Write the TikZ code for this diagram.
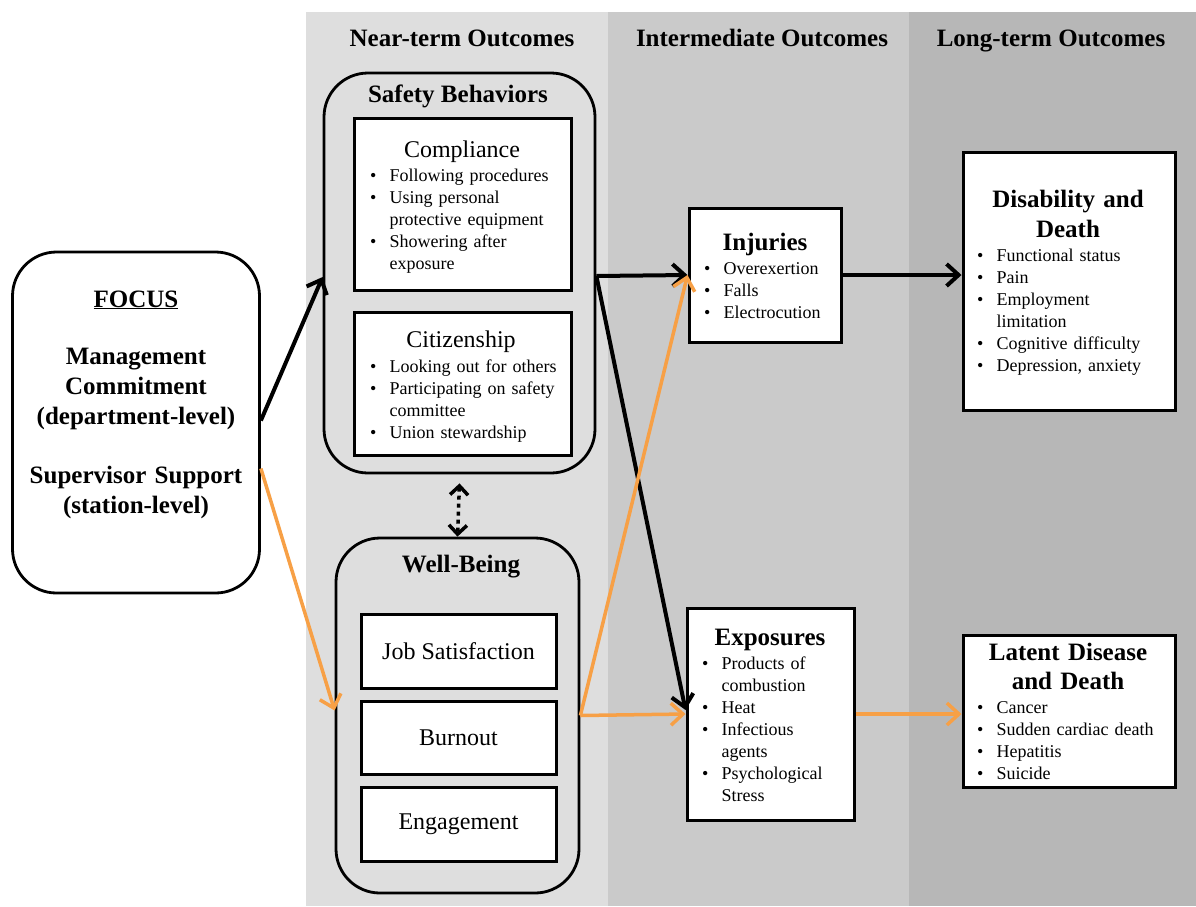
\documentclass[tikz,border=0pt]{standalone}
\usepackage{fontspec}
\setmainfont{Liberation Serif}
\usetikzlibrary{arrows.meta,calc}
\definecolor{nearc}{RGB}{222,222,222}
\definecolor{midc}{RGB}{202,202,202}
\definecolor{longc}{RGB}{183,183,183}
\definecolor{orng}{RGB}{247,160,70}
\newcommand{\bi}{\makebox[19.5pt][l]{\textbullet}}
\newcommand{\bc}{\hspace*{19.5pt}}
\begin{document}
\begin{tikzpicture}[x=1pt,y=-1pt,
  rbox/.style={draw, line width=2.8pt, rounded corners=44pt, inner sep=0pt},
  sbox/.style={draw, line width=3pt, fill=white, inner sep=0pt},
  head/.style={font=\fontsize{25}{30}\selectfont\bfseries, inner sep=0pt},
  sub/.style={font=\fontsize{24}{30}\selectfont, inner sep=0pt},
  lst/.style={font=\fontsize{18}{22}\selectfont, inner sep=0pt, anchor=base west, align=left, text width=200pt},
  tip/.style={-{Straight Barb[length=12pt,width=22pt]}},
  blk/.style={line width=4pt, tip},
  org/.style={line width=3.5pt, draw=orng, tip},
]
\useasboundingbox (0,0) rectangle (1196,906);
\fill[white] (0,0) rectangle (1196,906);
% panels
\fill[nearc] (306,12) rectangle (608,906);
\fill[midc] (608,12) rectangle (909,906);
\fill[longc] (909,12) rectangle (1196,906);
\node[head, anchor=base] (hnear) at (462,46) {Near-term Outcomes};
\node[head, anchor=base] (hmid) at (762,46) {Intermediate Outcomes};
\node[head, anchor=base] (hlong) at (1051,46) {Long-term Outcomes};

% FOCUS
\node[rbox, fill=white, minimum width=247pt, minimum height=341pt] (focus) at (136,422.5) {};
\node[head, anchor=base, align=center, text width=240pt] (focustxt) at (136,307)
  {\underline{FOCUS}\\[27pt]Management\\Commitment\\(department-level)\\[29pt]Supervisor Support\\(station-level)};

% Safety behaviors
\node[rbox, fill=nearc, minimum width=271pt, minimum height=400pt] (safety) at (459.5,273) {};
\node[head, anchor=base] (safetyt) at (458,102) {Safety Behaviors};
\node[sbox, minimum width=217pt, minimum height=172pt] (compl) at (462.5,204) {};
\node[sub, anchor=base] (complt) at (462,157) {Compliance};
\node[lst] (compll) at (370,181) {\bi Following procedures\\\bi Using personal\\\bc protective equipment\\\bi Showering after\\\bc exposure};
\node[sbox, minimum width=217pt, minimum height=143pt] (citiz) at (462.5,383.5) {};
\node[sub, anchor=base] (citizt) at (461,347) {Citizenship};
\node[lst] (citizl) at (370,372) {\bi Looking out for others\\\bi Participating on safety\\\bc committee\\\bi Union stewardship};

% Well-being
\node[rbox, fill=nearc, minimum width=243pt, minimum height=355pt] (wb) at (457.5,715.5) {};
\node[head, anchor=base] (wbt) at (461,572) {Well-Being};
\node[sbox, sub, minimum width=195pt, minimum height=74pt] (js) at (458.5,651) {Job Satisfaction};
\node[sbox, sub, minimum width=195pt, minimum height=73pt] (burn) at (458.5,737.5) {Burnout};
\node[sbox, sub, minimum width=195pt, minimum height=74pt] (eng) at (458.5,824) {Engagement};

% Injuries
\node[sbox, minimum width=152pt, minimum height=134pt] (inj) at (765,275) {};
\node[head, anchor=base] (injt) at (765,250) {Injuries};
\node[lst] (injl) at (704,274) {\bi Overexertion\\\bi Falls\\\bi Electrocution};

% Exposures
\node[sbox, minimum width=167pt, minimum height=212pt] (expo) at (770.5,714) {};
\node[head, anchor=base] (expot) at (770,645) {Exposures};
\node[lst] (expol) at (702,669) {\bi Products of\\\bc combustion\\\bi Heat\\\bi Infectious\\\bc agents\\\bi Psychological\\\bc Stress};

% Disability and Death
\node[sbox, minimum width=212pt, minimum height=258pt] (dis) at (1069,281) {};
\node[head, anchor=base, align=center, text width=205pt] (dist) at (1068,207) {Disability and\\Death};
\node[lst] (disl) at (977,261) {\bi Functional status\\\bi Pain\\\bi Employment\\\bc limitation\\\bi Cognitive difficulty\\\bi Depression, anxiety};

% Latent disease
\node[sbox, minimum width=212pt, minimum height=152pt] (lat) at (1069,711) {};
\node[head, anchor=base, align=center, text width=205pt, font=\fontsize{25}{29}\selectfont\bfseries] (latt) at (1068,660) {Latent Disease\\and Death};
\node[lst] (latl) at (977,713) {\bi Cancer\\\bi Sudden cardiac death\\\bi Hepatitis\\\bi Suicide};

% connectors
\draw[blk] ([yshift=2pt]focus.east) -- ([yshift=-4pt]safety.west);
\draw[org] ([yshift=-46pt]focus.east) -- ([yshift=5pt]wb.west);
\draw[blk] ([yshift=-3pt]safety.east) -- (inj.west);
\draw[blk] ([yshift=-3pt]safety.east) -- ([yshift=4pt]expo.west);
\draw[org] (wb.east) -- (inj.west);
\draw[org] (wb.east) -- (expo.west);
\draw[blk] (inj.east) -- (inj.east -| dis.west);
\draw[org] (expo.east) -- (expo.east -| lat.west);
\draw[line width=3.5pt, dash pattern=on 4pt off 4pt,
  {Straight Barb[length=9pt,width=18pt]}-{Straight Barb[length=9pt,width=18pt]}]
  ([yshift=-9pt]safety.south) -- (wb.north);
\end{tikzpicture}
\end{document}
